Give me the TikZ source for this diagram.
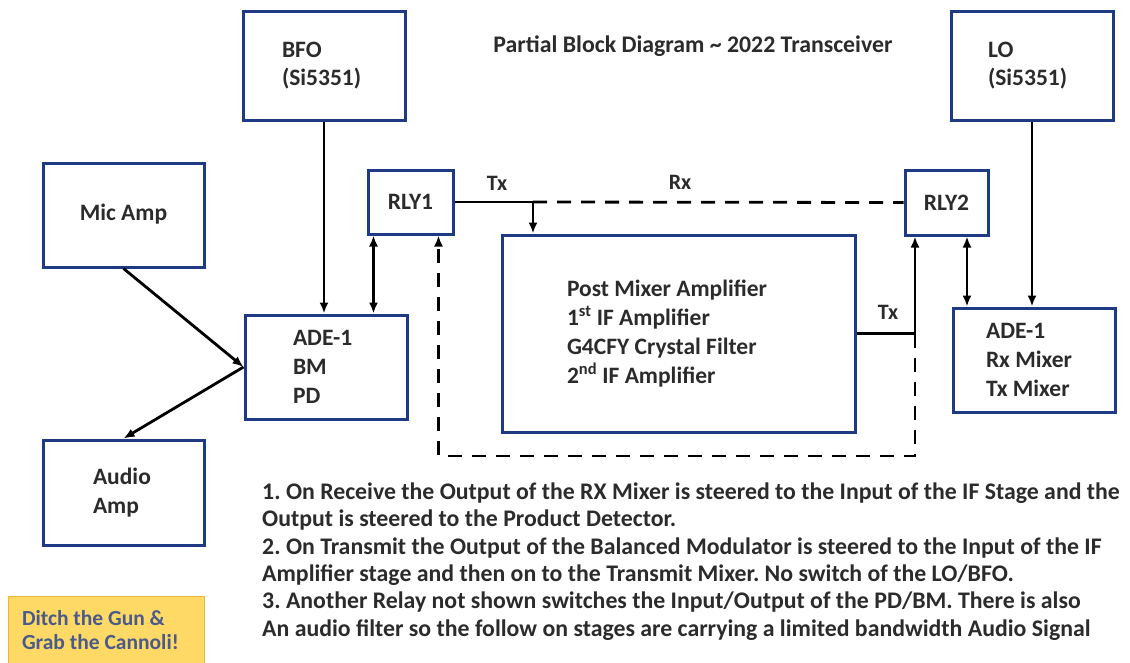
\documentclass[tikz,border=0pt]{standalone}
\usepackage{fontspec}
\setmainfont{Carlito}
\usetikzlibrary{arrows.meta, positioning, calc}
\definecolor{boxblue}{HTML}{1F3A85}
\definecolor{mottogold}{HTML}{FFD966}
\definecolor{mottoedge}{HTML}{E8B93C}
\definecolor{mottotext}{HTML}{4A5A8A}
\definecolor{inktext}{HTML}{2B2B2B}
\frenchspacing

\tikzset{
  blk/.style={draw=boxblue, line width=3pt, align=flush left, inner ysep=0pt,
    font=\fontsize{23.5}{28.8}\selectfont\bfseries, text=inktext},
  lbl/.style={font=\fontsize{22}{26}\selectfont\bfseries, text=inktext, inner sep=0pt},
  wire/.style={line width=2.8pt},
  arr/.style={wire, -{Latex[length=11pt,width=9pt]}},
  dblarr/.style={wire, {Latex[length=11pt,width=9pt]}-{Latex[length=11pt,width=9pt]}},
  rxline/.style={wire, dash pattern=on 14pt off 10pt},
}

\begin{document}
\begin{tikzpicture}[x=1pt, y=-1pt]
\useasboundingbox (0,0) rectangle (1130,662);

% Oscillators
\node[blk, text width=84pt, inner xsep=39pt, minimum height=109pt] (bfo) at (324,65.5) {BFO\\(Si5351)};
\node[blk, text width=88pt, inner xsep=37pt, minimum height=109pt] (lo) at (1032,65.5) {LO\\(Si5351)};

% Audio side
\node[blk, align=center, minimum width=161pt, minimum height=104pt] (mic) at (123.5,215) {\raisebox{6pt}{Mic Amp}};
\node[blk, text width=61pt, inner xsep=50pt, minimum height=105pt] (audio) at (123.5,492.5) {Audio\\Amp};

% Relays
\node[blk, align=center, minimum width=85pt, minimum height=64pt] (rly1) at (410.5,202) {RLY1};
\node[blk, align=center, minimum width=83pt, minimum height=65pt] (rly2) at (946.5,202.5) {RLY2};

% Mixers and IF strip
\node[blk, text width=66pt, inner xsep=48pt, minimum height=104pt] (bm) at (326,367) {ADE-1\\BM\\PD};
\node[blk, text width=96pt, inner xsep=33pt, minimum height=104pt] (rxmix) at (1034,360) {ADE-1\\Rx Mixer\\Tx Mixer};
\node[blk, text width=223pt, inner xsep=65pt, minimum height=197pt] (ifbox) at (678.5,333.5)
  {Post Mixer Amplifier\\1\textsuperscript{st} IF Amplifier\\G4CFY Crystal Filter\\2\textsuperscript{nd} IF Amplifier};

% Title and notes
\node[lbl, font=\fontsize{23.8}{28}\selectfont\bfseries] (title) at (693,46) {Partial Block Diagram \textasciitilde{} 2022 Transceiver};
\node[lbl, anchor=west, align=left, font=\fontsize{23.8}{27.4}\selectfont\bfseries] (notes) at (262,561.5)
  {1. On Receive the Output of the RX Mixer is steered to the Input of the IF Stage and the\\
   Output is steered to the Product Detector.\\
   2. On Transmit the Output of the Balanced Modulator is steered to the Input of the IF\\
   Amplifier stage and then on to the Transmit Mixer. No switch of the LO/BFO.\\
   3. Another Relay not shown switches the Input/Output of the PD/BM.\ There is also\\
   An audio filter so the follow on stages are carrying a limited bandwidth Audio Signal};
\node[draw=mottoedge, fill=mottogold, line width=1pt, text width=168pt, inner xsep=14pt,
  minimum height=68pt, align=flush left, text=mottotext,
  font=\fontsize{21.5}{23.5}\selectfont\bfseries] (motto) at (106,630)
  {Ditch the Gun \&\\Grab the Cannoli!};

% Connection points
\coordinate (txsplit) at (533,202);
\coordinate (txjoin) at (915,333.5);
\coordinate (loopr) at (915,456);
\coordinate (r1port) at ([xshift=7pt]rly1.south west);
\coordinate (r1ret) at ([xshift=-16pt]rly1.south east);
\coordinate (r2port) at ([xshift=20.5pt]rly2.south);

% Oscillator feeds
\draw[arr] (bfo.south) -- (bfo.south |- bm.north);
\draw[arr] (lo.south) -- (lo.south |- rxmix.north);

% Audio paths
\draw[arr] (mic.south) -- (bm.west);
\draw[arr] (bm.west) -- (audio.north);

% Relay links
\draw[dblarr] (r1port) -- (r1port |- bm.north);
\draw[dblarr] (r2port) -- (r2port |- rxmix.north);

% Tx / Rx steering
\draw[wire] (rly1.east) -- (txsplit);
\draw[arr] (txsplit) -- (txsplit |- ifbox.north);
\draw[rxline] (txsplit) -- (rly2.west);
\draw[wire] (ifbox.east) -- (txjoin);
\draw[arr] (txjoin) -- (txjoin |- rly2.south);
\draw[rxline, -{Latex[length=11pt,width=9pt]}] (txjoin) -- (loopr) -- (loopr -| r1ret) -- (r1ret);

\node[lbl] (txlbl) at (497,183) {Tx};
\node[lbl] (rxlbl) at (680,182) {Rx};
\node[lbl] (txlbl2) at (888,312) {Tx};

\end{tikzpicture}
\end{document}
